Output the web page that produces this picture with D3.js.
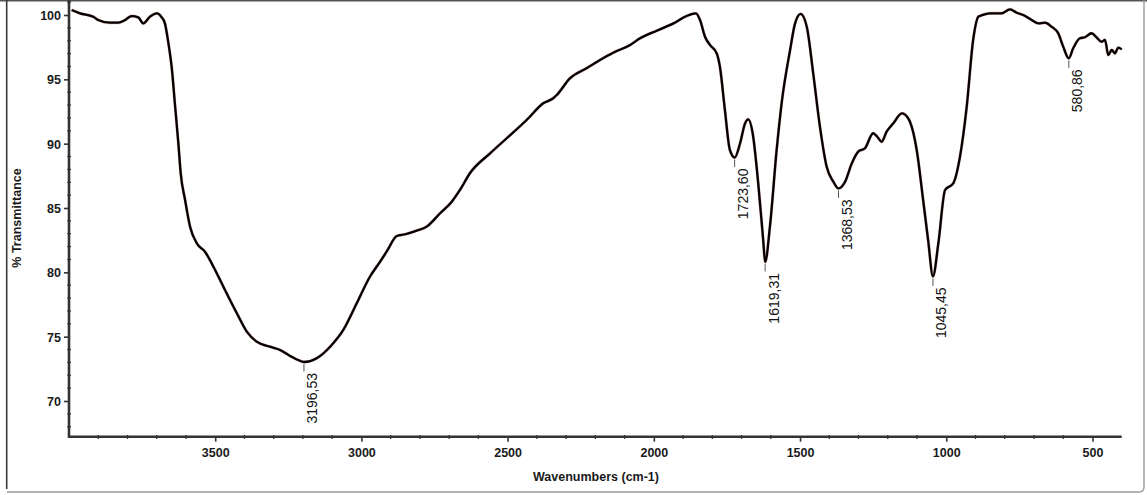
<!DOCTYPE html>
<html>
<head>
<meta charset="utf-8">
<script src="https://cdn.jsdelivr.net/npm/d3@7"></script>
<style>
  html, body { margin: 0; padding: 0; background: #fff; }
  svg { display: block; }
  .tick-label { font-family: "Liberation Sans Narrow", "Arial Narrow", "Liberation Sans", Arial, sans-serif; font-weight: bold; font-size: 12.5px; fill: #1a1a1a; }
  .axis-title { font-family: "Liberation Sans Narrow", "Arial Narrow", "Liberation Sans", Arial, sans-serif; font-weight: bold; font-size: 12.5px; fill: #1a1a1a; }
  .peak-label { font-family: "Liberation Sans", Arial, sans-serif; font-size: 14px; fill: #111; }
</style>
</head>
<body>
<svg id="chart" width="1147" height="495"></svg>
<script>
// FTIR spectrum: wavenumber (cm-1) and % transmittance
const wavenumbers = [
  3991, 3962, 3917, 3900, 3860, 3831, 3808, 3786, 3763, 3746, 3723, 3700, 3683, 3672,
  3660, 3649, 3637, 3626, 3618, 3603, 3586, 3563, 3535, 3506, 3472, 3426, 3392, 3358,
  3313, 3278, 3244, 3210, 3196.53, 3153, 3107, 3062, 3016, 2971, 2936, 2914, 2879, 2850,
  2811, 2777, 2731, 2691, 2663, 2629, 2560, 2503, 2435, 2378, 2344, 2332, 2287, 2230,
  2184, 2139, 2081, 2047, 1990, 1933, 1888, 1856, 1842, 1825, 1808, 1785, 1774, 1757,
  1740, 1723.60, 1705, 1688, 1677, 1662, 1643, 1626, 1619.31, 1603, 1580, 1563, 1534,
  1517, 1498, 1477, 1455, 1432, 1409, 1386, 1368.53, 1346, 1323, 1301, 1278, 1250, 1236,
  1221, 1204, 1181, 1152, 1130, 1101, 1079, 1062, 1045.45, 1027, 1004, 976, 953, 930,
  908, 890, 885, 851, 811, 782, 759, 737, 708, 685, 662, 640, 617, 600, 580.86, 566,
  543, 526, 503, 486, 469, 457, 446, 434, 423, 412, 400
];
const transmittance = [
  100.39, 100.13, 99.87, 99.61, 99.40, 99.40, 99.61, 99.92, 99.82, 99.35, 99.87, 100.13, 99.82, 99.35,
  97.80, 95.98, 92.87, 90.03, 87.70, 85.62, 83.55, 82.26, 81.60, 80.44, 78.88, 76.82, 75.39, 74.61,
  74.22, 73.96, 73.50, 73.13, 73.03, 73.32, 74.22, 75.52, 77.59, 79.66, 80.83, 81.60, 82.82, 82.96,
  83.24, 83.55, 84.59, 85.49, 86.40, 87.70, 89.25, 90.42, 91.84, 93.14, 93.53, 93.78, 95.08, 95.86,
  96.50, 97.07, 97.67, 98.19, 98.78, 99.35, 99.92, 100.13, 99.61, 98.31, 97.67, 97.02, 95.98, 92.62,
  89.51, 88.92, 90.03, 91.58, 91.89, 90.81, 86.92, 82.51, 80.80, 83.55, 89.51, 93.14, 97.28,
  99.35, 100.08, 99.09, 95.47, 91.32, 88.21, 87.04, 86.52, 87.04, 88.47, 89.38, 89.64, 90.81, 90.54,
  90.15, 90.93, 91.58, 92.36, 91.97, 89.51, 85.62, 82.51, 79.68, 82.26, 86.40, 86.92, 88.99, 92.87,
  98.06, 99.87, 99.92, 100.13, 100.13, 100.44, 100.18, 100.00, 99.61, 99.35, 99.40, 99.09, 98.58, 97.54, 96.63, 97.41,
  98.19, 98.27, 98.58, 98.27, 97.92, 98.06, 96.89, 97.28, 97.02, 97.46, 97.33
];

// Annotated absorption bands
const peakWavenumbers = [3196.53, 1723.60, 1619.31, 1368.53, 1045.45, 580.86];
const peakLabels = ["3196,53", "1723,60", "1619,31", "1368,53", "1045,45", "580,86"];

// Axis ticks
const xMajorTicks = [3500, 3000, 2500, 2000, 1500, 1000, 500];
const yMajorTicks = [70, 75, 80, 85, 90, 95, 100];

const svg = d3.select("#chart");
const W = 1147, H = 495;

const x = d3.scaleLinear().domain([4000, 400]).range([69, 1121.7]);
const y = d3.scaleLinear().domain([70, 100]).range([401, 15]);
const plotTop = 0, plotBottom = 436.7;

// Window-like outer frame
svg.append("rect").attr("x", 0).attr("y", 0).attr("width", W).attr("height", H).attr("fill", "#fff");
svg.append("line").attr("x1", 0).attr("x2", W).attr("y1", 0.8).attr("y2", 0.8)
  .attr("stroke", "#555").attr("stroke-width", 1.6);
svg.append("line").attr("x1", 6.7).attr("x2", 6.7).attr("y1", 0).attr("y2", 489)
  .attr("stroke", "#3a3a3a").attr("stroke-width", 1.6);
svg.append("path")
  .attr("d", `M7,492 L1139,492 Q1144,492 1144,487 L1144,0`)
  .attr("fill", "none").attr("stroke", "#9a9a9a").attr("stroke-width", 1.4);

// Minor ticks
const yMinor = d3.range(68, 102, 1).filter(v => y(v) >= plotTop + 2 && y(v) <= plotBottom - 2 && v % 5 !== 0);
svg.append("g").selectAll("line").data(yMinor).join("line")
  .attr("x1", 67.3).attr("x2", 71).attr("y1", d => y(d)).attr("y2", d => y(d))
  .attr("stroke", "#333").attr("stroke-width", 1.3);

const xMinor = d3.range(500, 4000, 100).filter(v => v % 500 !== 0);
svg.append("g").selectAll("line").data(xMinor).join("line")
  .attr("x1", d => x(d)).attr("x2", d => x(d)).attr("y1", plotBottom - 1.8).attr("y2", plotBottom + 2.2)
  .attr("stroke", "#333").attr("stroke-width", 1.3);

// Y axis
const yAxis = d3.axisLeft(y).tickValues(yMajorTicks).tickSize(5).tickPadding(3).tickFormat(d3.format("d"));
const gy = svg.append("g").attr("transform", "translate(69,0)").call(yAxis);
gy.select(".domain").remove();
gy.selectAll(".tick line").attr("stroke", "#333").attr("stroke-width", 1.6);
gy.selectAll(".tick text").attr("class", "tick-label").attr("dy", "0.36em");

// X axis
const xAxis = d3.axisBottom(x).tickValues(xMajorTicks).tickSize(5).tickPadding(6).tickFormat(d3.format("d"));
const gx = svg.append("g").attr("transform", `translate(0,${plotBottom})`).call(xAxis);
gx.select(".domain").remove();
gx.selectAll(".tick line").attr("stroke", "#333").attr("stroke-width", 1.6);
gx.selectAll(".tick text").attr("class", "tick-label");

// Axis lines
svg.append("line").attr("x1", 69).attr("x2", 69).attr("y1", plotTop).attr("y2", plotBottom + 1.3)
  .attr("stroke", "#333").attr("stroke-width", 2.6);
svg.append("line").attr("x1", 68).attr("x2", x(400)).attr("y1", plotBottom).attr("y2", plotBottom)
  .attr("stroke", "#333").attr("stroke-width", 2.6);

// Axis titles
svg.append("text").attr("class", "axis-title")
  .attr("x", 596).attr("y", 481).attr("text-anchor", "middle")
  .text("Wavenumbers (cm-1)");
svg.append("text").attr("class", "axis-title")
  .attr("transform", "translate(20.5,218) rotate(-90)").attr("text-anchor", "middle")
  .text("% Transmittance");

// Spectrum: thin red halo under a black trace
const spectrum = wavenumbers.map((w, i) => ({ w, t: transmittance[i] }));
const line = d3.line().x(d => x(d.w)).y(d => y(d.t)).curve(d3.curveMonotoneX);

svg.append("path").datum(spectrum)
  .attr("d", line).attr("fill", "none")
  .attr("stroke", "#b02020").attr("stroke-width", 3.0).attr("stroke-opacity", 0.35)
  .attr("stroke-linejoin", "round");
svg.append("path").datum(spectrum)
  .attr("d", line).attr("fill", "none")
  .attr("stroke", "#000").attr("stroke-width", 2.3)
  .attr("stroke-linejoin", "round");

// Peak annotations
const peaks = peakWavenumbers.map((w, i) => {
  const idx = wavenumbers.indexOf(w);
  return { w, t: transmittance[idx], label: peakLabels[i] };
});
const pg = svg.append("g");
peaks.forEach(p => {
  const px = x(p.w), py = y(p.t);
  pg.append("line").attr("x1", px).attr("x2", px).attr("y1", py + 2).attr("y2", py + 9.5)
    .attr("stroke", "#555").attr("stroke-width", 1);
  pg.append("text").attr("class", "peak-label")
    .attr("transform", `translate(${px + 13.5},${py + 11}) rotate(-90)`)
    .attr("text-anchor", "end")
    .text(p.label);
});
</script>
</body>
</html>
